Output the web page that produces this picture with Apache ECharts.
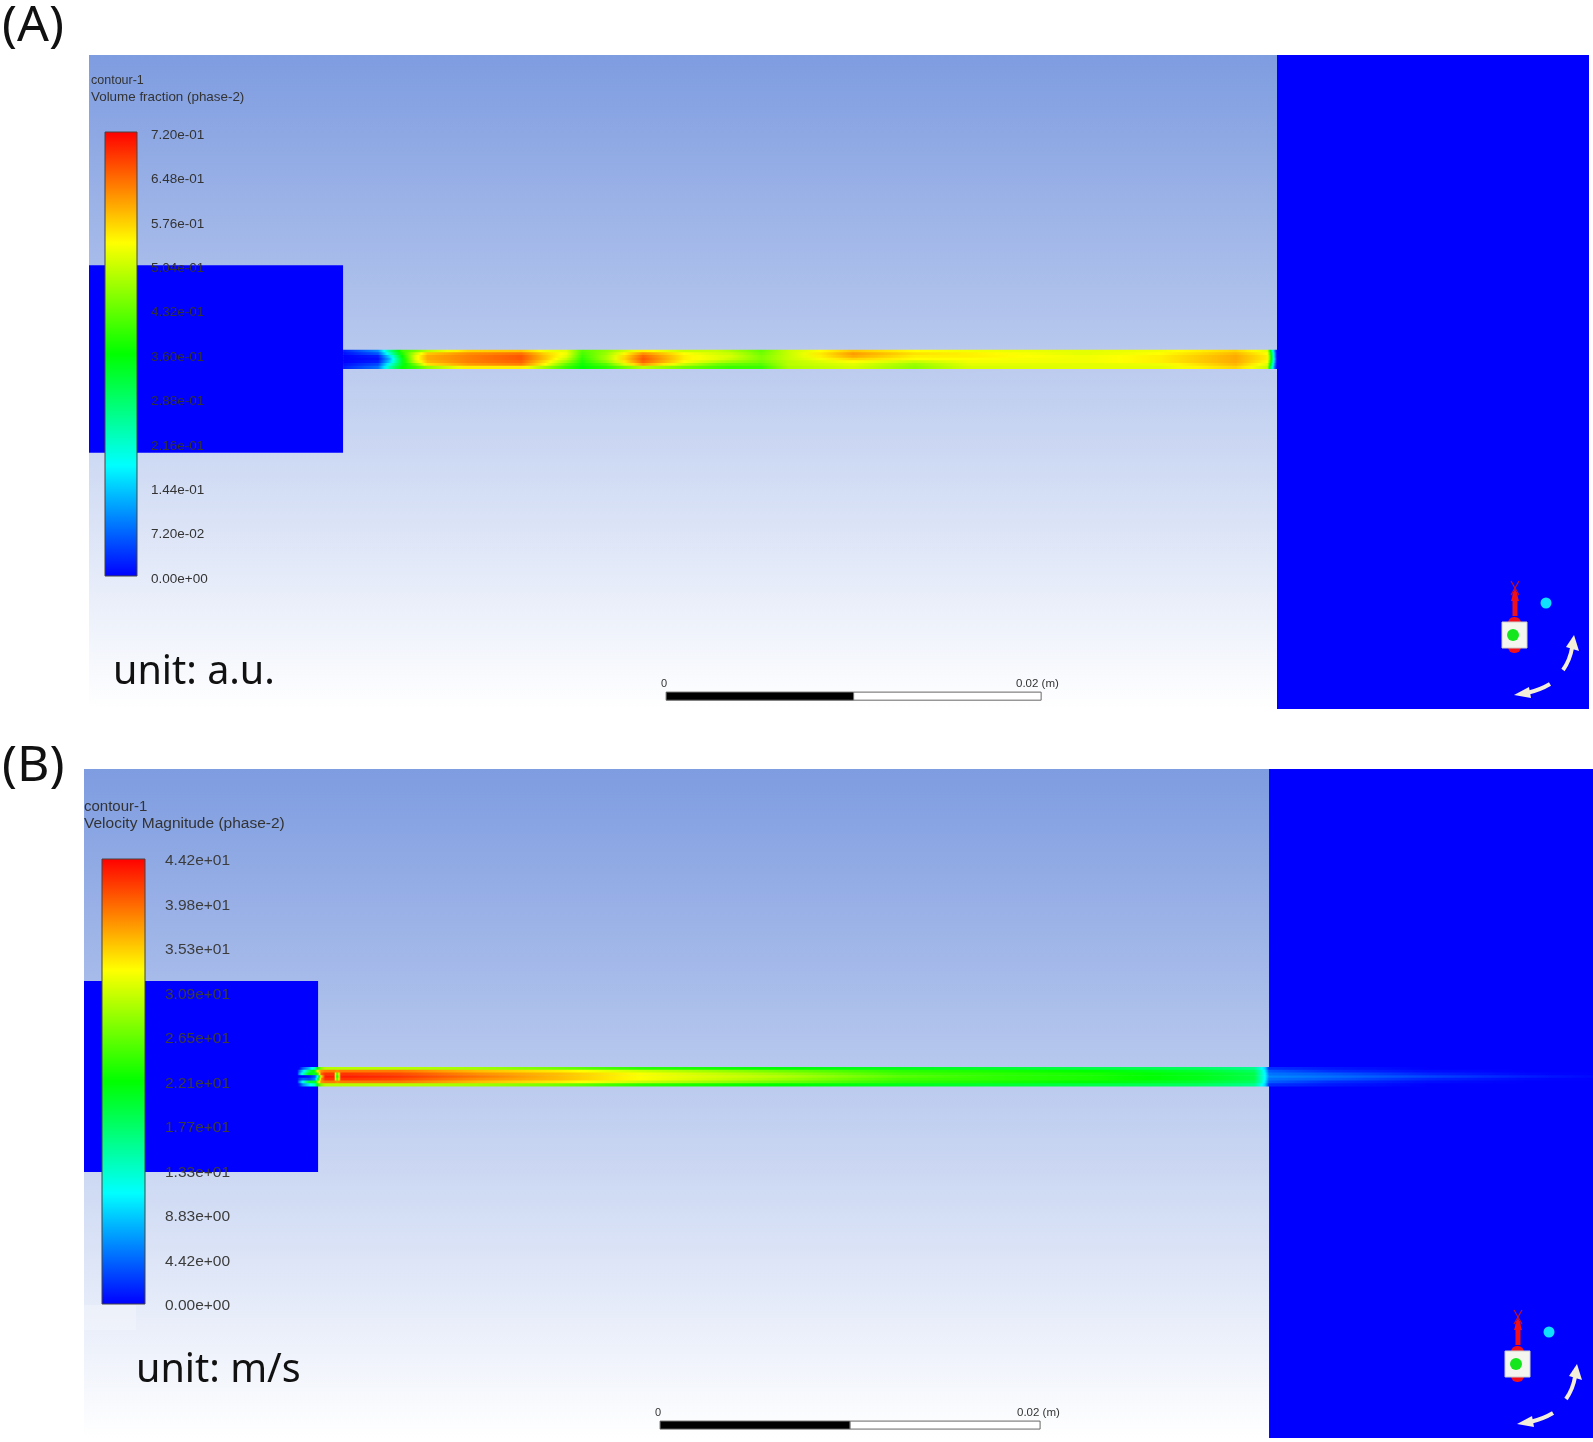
<!DOCTYPE html>
<html>
<head>
<meta charset="utf-8">
<title>contour</title>
<script src="https://cdn.jsdelivr.net/npm/echarts@6/dist/echarts.min.js"></script>
<style>
    html, body { margin: 0; padding: 0; background: #fff; }
    #main { width: 1593px; height: 1442px; filter: blur(0.6px); }
</style>
</head>
<body>
<div id="main"></div>
<script>
// 色标 (fraction of the scale, r, g, b)
const rainbow = [[0, 0, 0, 255], [0.25, 0, 255, 255], [0.5, 0, 255, 0], [0.75, 255, 255, 0], [1, 255, 0, 0]];

// (A) volume fraction
const fractionMax = 0.72;
const fractionInterval = 0.072;
const fractionLabels = ['0.00e+00', '7.20e-02', '1.44e-01', '2.16e-01', '2.88e-01', '3.60e-01', '4.32e-01', '5.04e-01', '5.76e-01', '6.48e-01', '7.20e-01'];
// stations along the channel, mm from the channel inlet
const fractionStations = [0, 1.87, 2.5, 3.15, 3.85, 4.5, 6.65, 9.5, 10.8, 11.9, 12.75, 14.05, 16, 18.2, 19.95, 20.7, 22.3, 23.75, 27.2, 30.5, 33.35, 39.45, 43.55, 47.6, 49.3, 49.5, 49.7, 49.81];
// rows run from the top wall to the bottom wall
const fractionRows = [
    [.02, .10, .26, .40, .44, .49, .57, .58, .53, .52, .42, .46, .55, .50, .50, .48, .43, .50, .58, .54, .53, .52, .53, .57, .52, .30, .08, 0],
    [.01, .06, .22, .38, .50, .58, .62, .64, .57, .53, .41, .47, .62, .54, .51, .50, .44, .50, .61, .56, .55, .52, .54, .59, .54, .34, .10, 0],
    [0, .02, .16, .36, .52, .60, .63, .66, .58, .52, .40, .48, .65, .55, .52, .51, .45, .50, .60, .55, .55, .53, .55, .60, .55, .36, .10, 0],
    [0, .01, .13, .34, .52, .60, .63, .66, .58, .50, .39, .48, .66, .55, .52, .50, .45, .50, .57, .54, .54, .53, .55, .60, .55, .36, .12, 0],
    [0, .02, .15, .34, .50, .59, .63, .65, .56, .47, .38, .46, .65, .54, .49, .47, .44, .49, .54, .50, .53, .53, .55, .60, .54, .34, .10, 0],
    [.01, .05, .20, .34, .44, .56, .61, .63, .54, .43, .37, .42, .61, .50, .44, .43, .42, .49, .52, .47, .52, .52, .53, .59, .52, .30, .08, 0],
    [.02, .08, .24, .36, .40, .46, .55, .55, .47, .40, .36, .39, .49, .44, .41, .40, .40, .48, .51, .46, .51, .52, .52, .57, .50, .26, .06, 0]
];
const fractionBlocks = [[-13.55, 0, -5, 5], [49.81, 66.45, -18.66, 16.21]];
const fractionScaleBar = [[17.23, 27.23, -18.19, -17.76], [27.23, 37.23, -18.19, -17.76]];

// (B) velocity magnitude, m/s
const velocityMax = 44.2;
const velocityInterval = 4.42;
const velocityLabels = ['0.00e+00', '4.42e+00', '8.83e+00', '1.33e+01', '1.77e+01', '2.21e+01', '2.65e+01', '3.09e+01', '3.53e+01', '3.98e+01', '4.42e+01'];
const velocityStations = [-1.1, -1, -.79, -.47, -.16, 0, .16, .37, .84, 1, 1.2, 1.5, 4.26, 8.47, 12.68, 16.9, 24.26, 30.6, 35.84, 41.1, 46.37, 49.26, 49.63, 49.84, 50.05, 53.2, 58.5, 63.7, 67.1];
const velocityRows = [
    [0, 0, 4, 8, 14, 24, 28, 30, 30, 30, 30, 30, 30, 29, 27, 24, 22, 21, 20, 19, 18, 16, 12, 9, 2, 1, 0, 0, 0],
    [0, 4, 10, 18, 24, 34, 38, 39, 39, 38, 39, 39, 39, 36, 34, 31, 27, 24, 23, 22, 20, 18, 14, 10, 4, 2, .5, 0, 0],
    [0, 6, 13, 22, 20, 26, 40, 42, 42, 24, 42, 42, 41, 38, 36, 33, 29, 25, 24, 23, 21, 19, 14, 11, 5, 4, 1.5, .3, 0],
    [0, 0, 0, 1, 4, 14, 34, 43, 43, 20, 43, 43, 42, 39, 36, 33, 30, 26, 24, 23, 21, 19, 14, 11, 6, 5, 3, 1.2, .3],
    [0, 2, 4, 3, 6, 20, 38, 42, 42, 24, 42, 42, 41, 38, 36, 33, 29, 25, 24, 23, 21, 19, 14, 11, 5, 4, 1.5, .3, 0],
    [0, 5, 12, 20, 20, 30, 38, 39, 39, 38, 39, 39, 39, 36, 34, 31, 27, 24, 23, 22, 20, 18, 14, 10, 4, 2, .5, 0, 0],
    [0, 1, 6, 10, 14, 24, 28, 30, 30, 30, 30, 30, 30, 29, 27, 24, 22, 21, 20, 19, 18, 16, 12, 9, 2, 1, 0, 0, 0]
];
const velocityBlocks = [[-12.32, 0, -5.03, 5.03], [50.05, 67.1, -19.02, 16.18]];
const velocityScaleBar = [[18, 28, -18.55, -18.13], [28, 38, -18.55, -18.13]];

const channelWidth = 1.0;

function colorAt(frac) {
    const f = Math.max(0, Math.min(1, frac));
    let i = 0;
    while (i < rainbow.length - 2 && f > rainbow[i + 1][0]) i++;
    const a = rainbow[i];
    const b = rainbow[i + 1];
    const t = (f - a[0]) / (b[0] - a[0]);
    const c = [1, 2, 3].map(k => Math.round(a[k] + (b[k] - a[k]) * t));
    return 'rgb(' + c.join(',') + ')';
}

function rectItem(api, x0, x1, y0, y1, style) {
    const p0 = api.coord([x0, y1]);
    const p1 = api.coord([x1, y0]);
    return {
        type: 'rect',
        shape: { x: p0[0], y: p0[1], width: p1[0] - p0[0], height: p1[1] - p0[1] },
        style: style,
    };
}

// each row is one long rect, its gradient stops come from the row's values
function rowGradient(stations, row, max) {
    const first = stations[0];
    const span = stations[stations.length - 1] - first;
    const stops = [];
    for (let i = 0; i < stations.length - 1; i++) {
        for (let k = 0; k < 4; k++) {
            const t = k / 4;
            stops.push({
                offset: (stations[i] + (stations[i + 1] - stations[i]) * t - first) / span,
                color: colorAt((row[i] + (row[i + 1] - row[i]) * t) / max),
            });
        }
    }
    stops.push({ offset: 1, color: colorAt(row[row.length - 1] / max) });
    return new echarts.graphic.LinearGradient(0, 0, 1, 0, stops);
}

function panelSeries(axisIndex, blocks, stations, rows, max, scaleBar) {
    const x0 = stations[0];
    const x1 = stations[stations.length - 1];
    const rowHeight = channelWidth / rows.length;
    return [
        {
            type: 'custom',
            xAxisIndex: axisIndex,
            yAxisIndex: axisIndex,
            silent: true,
            z: 2,
            data: blocks,
            encode: { x: [0, 1], y: [2, 3] },
            renderItem: (params, api) => rectItem(api, api.value(0), api.value(1), api.value(2), api.value(3), { fill: '#0000ff' }),
        },
        {
            type: 'custom',
            xAxisIndex: axisIndex,
            yAxisIndex: axisIndex,
            silent: true,
            z: 3,
            data: rows.map((r, i) => [x0, i]),
            encode: { x: 0, y: 1 },
            renderItem: (params, api) => {
                const i = params.dataIndex;
                const top = channelWidth / 2 - rowHeight * i;
                const item = rectItem(api, x0, x1, top - rowHeight, top, { fill: rowGradient(stations, rows[i], max) });
                item.shape.height += 0.6;
                return item;
            },
        },
        {
            type: 'custom',
            xAxisIndex: axisIndex,
            yAxisIndex: axisIndex,
            silent: true,
            z: 4,
            data: scaleBar,
            encode: { x: [0, 1], y: [2, 3] },
            renderItem: (params, api) => rectItem(api, api.value(0), api.value(1), api.value(2), api.value(3), {
                fill: params.dataIndex === 0 ? '#000' : '#fff',
                stroke: '#666',
                lineWidth: 1,
            }),
        },
    ];
}

function colorbarSeries(axisIndex, max) {
    return {
        type: 'custom',
        xAxisIndex: axisIndex,
        yAxisIndex: axisIndex,
        silent: true,
        z: 5,
        data: [[0, max]],
        encode: { x: 0, y: 1 },
        renderItem: (params, api) => rectItem(api, 0, 1, 0, max, {
            fill: new echarts.graphic.LinearGradient(0, 1, 0, 0, rainbow.map(c => ({
                offset: c[0],
                color: 'rgb(' + c[1] + ',' + c[2] + ',' + c[3] + ')',
            }))),
            stroke: '#444',
            lineWidth: 1,
        }),
    };
}

function backdrop() {
    return new echarts.graphic.LinearGradient(0, 0, 0, 1, [
        { offset: 0, color: '#7e9ce0' },
        { offset: 1, color: '#ffffff' },
    ]);
}

function text(x, y, str, font, fill) {
    return { type: 'text', z: 20, x: x, y: y, style: { text: str, font: font, fill: fill, verticalAlign: 'middle' } };
}

// 坐标轴小图标
function triad(dx, dy) {
    const arrowColor = '#f3eeda';
    const el = (o) => Object.assign({ z: 20, x: dx, y: dy }, o);
    return [
        el({ type: 'rect', shape: { x: 1508, y: 617, width: 13, height: 36, r: 6 }, style: { fill: '#f0101a' } }),
        el({ type: 'rect', shape: { x: 1512.5, y: 592, width: 5, height: 24 }, style: { fill: '#f0101a' } }),
        el({ type: 'polygon', shape: { points: [[1515, 588], [1519, 601], [1511, 601]] }, style: { fill: '#f0101a' } }),
        el({ type: 'line', shape: { x1: 1511, y1: 581, x2: 1519, y2: 595 }, style: { stroke: '#c01030', lineWidth: 1.2 } }),
        el({ type: 'line', shape: { x1: 1519, y1: 581, x2: 1511, y2: 595 }, style: { stroke: '#c01030', lineWidth: 1.2 } }),
        el({ type: 'rect', shape: { x: 1502, y: 622, width: 25, height: 26 }, style: { fill: '#f6f6f0', stroke: '#ccc', lineWidth: 1 } }),
        el({ type: 'circle', shape: { cx: 1513, cy: 635, r: 6 }, style: { fill: '#14e61e' } }),
        el({ type: 'circle', shape: { cx: 1546, cy: 603, r: 5.5 }, style: { fill: '#10e0ff' } }),
        el({ type: 'bezierCurve', shape: { x1: 1563, y1: 670, x2: 1572, y2: 648, cpx1: 1570, cpy1: 660 }, style: { stroke: arrowColor, lineWidth: 4, fill: 'none' } }),
        el({ type: 'polygon', shape: { points: [[1574, 635], [1579, 651], [1566, 647]] }, style: { fill: arrowColor } }),
        el({ type: 'bezierCurve', shape: { x1: 1550, y1: 684, x2: 1527, y2: 693, cpx1: 1540, cpy1: 690 }, style: { stroke: arrowColor, lineWidth: 4, fill: 'none' } }),
        el({ type: 'polygon', shape: { points: [[1514, 695], [1529, 687], [1531, 698]] }, style: { fill: arrowColor } }),
    ];
}

const sans = '"Liberation Sans", Arial, sans-serif';
const label = '"Noto Sans", sans-serif';

const option = {
    animation: false,
    backgroundColor: '#fff',
    grid: [
        { left: 89, top: 55, width: 1500, height: 654, show: true, borderWidth: 0, backgroundColor: backdrop() },
        { left: 84, top: 769, width: 1509, height: 669, show: true, borderWidth: 0, backgroundColor: backdrop() },
        { left: 105, top: 132, width: 32, height: 444 },
        { left: 102, top: 859, width: 43, height: 445 },
    ],
    xAxis: [
        { type: 'value', gridIndex: 0, min: -13.55, max: 66.45, show: false },
        { type: 'value', gridIndex: 1, min: -12.32, max: 67.1, show: false },
        { type: 'value', gridIndex: 2, min: 0, max: 1, show: false },
        { type: 'value', gridIndex: 3, min: 0, max: 1, show: false },
    ],
    yAxis: [
        { type: 'value', gridIndex: 0, min: -18.66, max: 16.21, show: false },
        { type: 'value', gridIndex: 1, min: -19.02, max: 16.18, show: false },
        {
            type: 'value',
            gridIndex: 2,
            min: 0,
            max: fractionMax,
            interval: fractionInterval,
            z: 6,
            splitLine: { show: false },
            axisLine: { show: false },
            axisTick: { show: false },
            axisLabel: {
                margin: 14,
                verticalAlign: 'top',
                lineHeight: 6,
                color: '#333',
                fontFamily: sans,
                fontSize: 13.5,
                formatter: (v) => fractionLabels[Math.round(v / fractionInterval)],
            },
            position: 'right',
        },
        {
            type: 'value',
            gridIndex: 3,
            min: 0,
            max: velocityMax,
            interval: velocityInterval,
            z: 6,
            splitLine: { show: false },
            axisLine: { show: false },
            axisTick: { show: false },
            axisLabel: {
                margin: 20,
                verticalAlign: 'top',
                lineHeight: 4,
                color: '#3c3c3c',
                fontFamily: sans,
                fontSize: 15.5,
                formatter: (v) => velocityLabels[Math.round(v / velocityInterval)],
            },
            position: 'right',
        },
    ],
    series: [
        ...panelSeries(0, fractionBlocks, fractionStations, fractionRows, fractionMax, fractionScaleBar),
        ...panelSeries(1, velocityBlocks, velocityStations, velocityRows, velocityMax, velocityScaleBar),
        colorbarSeries(2, fractionMax),
        colorbarSeries(3, velocityMax),
    ],
    graphic: [
        text(2, 27, '(A)', '50px ' + label, '#111'),
        text(2, 767, '(B)', '50px ' + label, '#111'),
        text(91, 81, 'contour-1', '12.5px ' + sans, '#333'),
        text(91, 97, 'Volume fraction (phase-2)', '13.4px ' + sans, '#333'),
        text(84, 807, 'contour-1', '15px ' + sans, '#333'),
        text(84, 824, 'Velocity Magnitude (phase-2)', '15.5px ' + sans, '#333'),
        text(113, 673, 'unit: a.u.', '39.5px ' + label, '#111'),
        text(136, 1371, 'unit: m/s', '39.5px ' + label, '#111'),
        text(661, 684, '0', '11px ' + sans, '#333'),
        text(1016, 684, '0.02 (m)', '11.5px ' + sans, '#333'),
        text(655, 1413, '0', '11px ' + sans, '#333'),
        text(1017, 1413, '0.02 (m)', '11.5px ' + sans, '#333'),
        { type: 'rect', z: 19, shape: { x: 84, y: 1305, width: 52, height: 25 }, style: { fill: 'rgba(255,255,255,0.25)' } },
        ...triad(0, 0),
        ...triad(3, 729),
    ],
};

const myChart = echarts.init(document.getElementById('main'));
myChart.setOption(option);
window.onresize = myChart.resize;
</script>
</body>
</html>
